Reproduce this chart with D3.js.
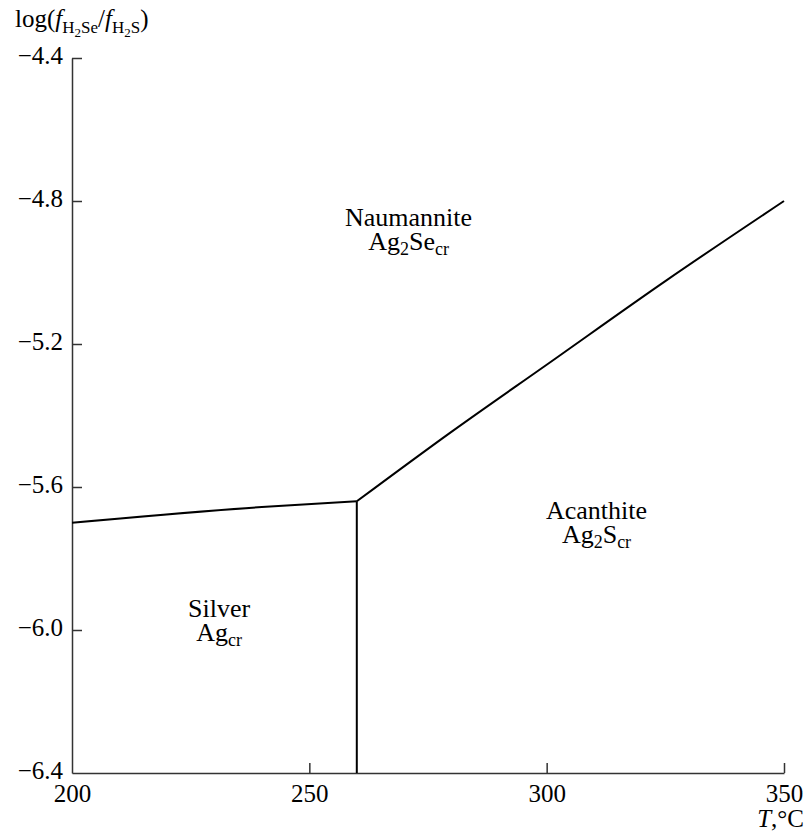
<!DOCTYPE html>
<html>
<head>
<meta charset="utf-8">
<script src="https://cdn.jsdelivr.net/npm/d3@7"></script>
<style>
  body { margin: 0; background: #fff; }
  svg, svg text { font-family: 'Liberation Serif', 'Times New Roman', Times, serif; fill: #000; }
</style>
</head>
<body>
<div id="chart"></div>
<script>
// phase boundaries, T in °C vs log(fH2Se/fH2S)
const silverNaumT = [200, 240, 260];
const silverNaumV = [-5.70, -5.656, -5.64];
const acanNaumT = [260, 280, 300, 325, 350];
const acanNaumV = [-5.64, -5.445, -5.258, -5.024, -4.8];
const silverAcanT = [260, 260];
const silverAcanV = [-5.64, -6.4];

const xTicks = [200, 250, 300, 350];
const yTicks = [-4.4, -4.8, -5.2, -5.6, -6.0, -6.4];

const width = 807, height = 838;
const margin = { left: 72, right: 23, top: 58, bottom: 65 };
const serif = "'Liberation Serif', 'Times New Roman', serif";

const svg = d3.select('#chart')
  .append('svg')
  .attr('width', width)
  .attr('height', height)
  .style('font-family', serif);

const x = d3.scaleLinear()
  .domain([200, 350])
  .range([margin.left, width - margin.right]);

const y = d3.scaleLinear()
  .domain([-6.4, -4.4])
  .range([height - margin.bottom, margin.top]);

const fmt = d => (d < 0 ? '\u2212' : '') + Math.abs(d).toFixed(1);

// axes, ticks point inward
const gx = svg.append('g')
  .attr('transform', `translate(0,${y(-6.4)})`)
  .call(d3.axisBottom(x).tickValues(xTicks).tickSize(-10).tickPadding(10).tickSizeOuter(0));

const gy = svg.append('g')
  .attr('transform', `translate(${x(200)},0)`)
  .call(d3.axisLeft(y).tickValues(yTicks).tickSize(-10).tickPadding(9).tickFormat(fmt).tickSizeOuter(0));

[gx, gy].forEach(g => {
  g.attr('font-family', null).style('font-family', serif);
  g.select('.domain').attr('stroke', '#333').attr('stroke-width', 1.5);
  g.selectAll('.tick line').attr('stroke', '#333').attr('stroke-width', 1.5);
  g.selectAll('.tick text')
    .attr('font-size', 25)
    .style('font-family', serif)
    .attr('fill', '#000');
});
gx.selectAll('.tick text').attr('dy', '0.75em');
gy.selectAll('.tick text').attr('dy', '0.2em');
// tick at 200 / -6.4 would sit on the other axis
gx.selectAll('.tick').filter(d => d === 200).select('line').remove();
gy.selectAll('.tick').filter(d => d === -6.4).select('line').remove();

// boundaries
const smooth = d3.line().x(d => x(d[0])).y(d => y(d[1])).curve(d3.curveMonotoneX);
const straight = d3.line().x(d => x(d[0])).y(d => y(d[1]));
const curves = [
  { pts: d3.zip(silverNaumT, silverNaumV), gen: smooth },
  { pts: d3.zip(acanNaumT, acanNaumV), gen: smooth },
  { pts: d3.zip(silverAcanT, silverAcanV), gen: straight }
];
svg.selectAll('.bound')
  .data(curves)
  .join('path')
    .attr('class', 'bound')
    .attr('d', d => d.gen(d.pts))
    .attr('fill', 'none')
    .attr('stroke', '#000')
    .attr('stroke-width', 2)
    .attr('stroke-linejoin', 'miter');

// axis titles
const yt = svg.append('text')
  .attr('x', 15).attr('y', 27)
  .attr('font-size', 25);
yt.append('tspan').text('log(');
yt.append('tspan').attr('font-style', 'italic').text('f');
yt.append('tspan').attr('font-size', 17).attr('dy', 6).text('H');
yt.append('tspan').attr('font-size', 13).attr('dy', 4).text('2');
yt.append('tspan').attr('font-size', 17).attr('dy', -4).text('Se');
yt.append('tspan').attr('dy', -6).text('/');
yt.append('tspan').attr('font-style', 'italic').text('f');
yt.append('tspan').attr('font-size', 17).attr('dy', 6).text('H');
yt.append('tspan').attr('font-size', 13).attr('dy', 4).text('2');
yt.append('tspan').attr('font-size', 17).attr('dy', -4).text('S');
yt.append('tspan').attr('dy', -6).text(')');

const xt = svg.append('text')
  .attr('x', 804).attr('y', 827)
  .attr('text-anchor', 'end')
  .attr('font-size', 25);
xt.append('tspan').attr('font-style', 'italic').text('T');
xt.append('tspan').text(',\u00b0C');

// phase field labels
const phaseNames = ['Naumannite', 'Acanthite', 'Silver'];
const phaseFormulas = [
  [['Ag', 0], ['2', 1], ['Se', 0], ['cr', 1]],
  [['Ag', 0], ['2', 1], ['S', 0], ['cr', 1]],
  [['Ag', 0], ['cr', 1]]
];
const phaseT = [270.9, 310.5, 231];
const phaseV = [-4.869, -5.69, -5.963];

phaseNames.forEach((name, i) => {
  const cx = x(phaseT[i]), cy = y(phaseV[i]);
  svg.append('text')
    .attr('x', cx).attr('y', cy)
    .attr('text-anchor', 'middle')
    .attr('font-size', 26)
    .text(name);
  const t = svg.append('text')
    .attr('x', cx).attr('y', cy + 24)
    .attr('text-anchor', 'middle')
    .attr('font-size', 26);
  let sub = 0;
  phaseFormulas[i].forEach(([s, isSub]) => {
    const dy = isSub && !sub ? 5 : (!isSub && sub ? -5 : 0);
    t.append('tspan')
      .attr('dy', dy)
      .attr('font-size', isSub ? 18 : 26)
      .text(s);
    sub = isSub;
  });
});
</script>
</body>
</html>
